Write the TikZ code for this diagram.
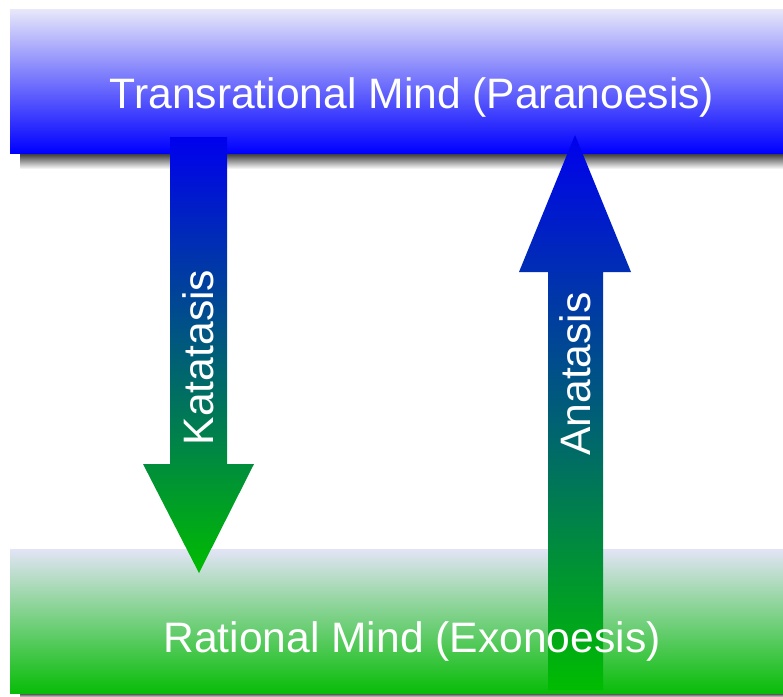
\documentclass[tikz,border=0pt]{standalone}
\usepackage{fontspec}
\setmainfont{Liberation Sans}
\usetikzlibrary{positioning}
\definecolor{paraLight}{RGB}{232,232,250}
\definecolor{paraMid}{RGB}{112,112,255}
\definecolor{paraBlue}{RGB}{0,0,255}
\definecolor{exoLight}{RGB}{226,228,246}
\definecolor{exoMid}{RGB}{110,206,112}
\definecolor{exoGreen}{RGB}{8,188,8}
\definecolor{arrowBlue}{RGB}{0,0,238}
\definecolor{arrowGreen}{RGB}{0,188,0}
\definecolor{shadowGray}{RGB}{50,50,50}

\tikzset{
  mindbar/.style={rectangle, draw=none, inner sep=0pt, minimum width=773pt, minimum height=144pt},
  bartext/.style={text=white, font=\fontsize{42.6}{48}\selectfont, anchor=base, inner sep=0pt},
  flowarrow/.style={top color=arrowBlue, bottom color=arrowGreen, draw=none},
  flowlabel/.style={text=white, font=\fontsize{42.6}{48}\selectfont, rotate=90, anchor=base, inner sep=0pt},
  barshadow/.style={top color=shadowGray, bottom color=white, draw=none}
}

\begin{document}
\begin{tikzpicture}[x=1pt, y=-1pt]
\useasboundingbox (0,0) rectangle (783,696);
\fill[white] (0,0) rectangle (783,696);

% === shadows ===
\shade[barshadow] (20,153) rectangle (783,169);
\shade[barshadow] (20,693) rectangle (783,698);

% === mind levels ===
\node[mindbar, top color=paraLight, middle color=paraMid, bottom color=paraBlue] (transrational) at (396.5,81) {};
\node[mindbar, top color=exoLight, middle color=exoMid, bottom color=exoGreen] (rational) at (396.5,621) {};

% === arrows ===
% downward
\shade[flowarrow] (170,137) -- (227,137) -- (227,464) -- (254,464) -- (199,573)
  -- (143,464) -- (170,464) -- cycle;
% upward
\shade[flowarrow] (575,135) -- (631,272) -- (603,272) -- (603,690) -- (548,690)
  -- (548,272) -- (519,272) -- cycle;

% === labels ===
\node[bartext] (paranoesis) at (412,108) {Transrational Mind (Paranoesis)};
\node[bartext] (exonoesis) at (412,652) {Rational Mind (Exonoesis)};
\node[flowlabel] (katatasis) at (213,357.5) {Katatasis};
\node[flowlabel] (anatasis) at (590,374) {Anatasis};

\end{tikzpicture}
\end{document}
